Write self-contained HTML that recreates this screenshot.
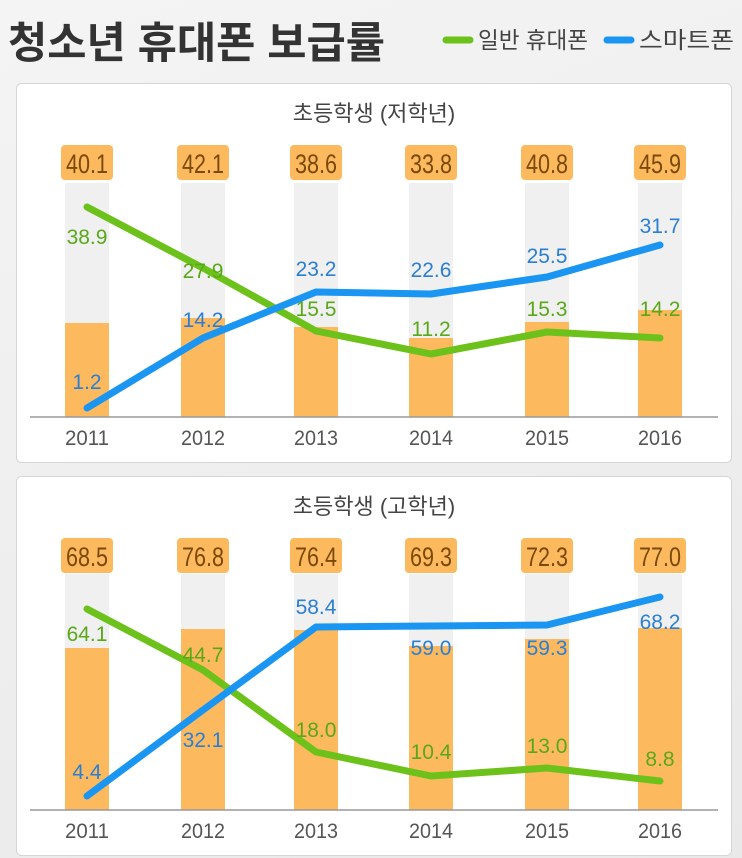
<!DOCTYPE html>
<html><head><meta charset="utf-8"><style>
body{margin:0;width:742px;height:858px;background:linear-gradient(160deg,#f4f4f4,#e9e9e9);font-family:"Liberation Sans","Noto Sans CJK KR",sans-serif;overflow:hidden}
</style></head><body>
<svg width="742" height="858" xmlns="http://www.w3.org/2000/svg" style="position:absolute;left:0;top:0;font-family:'Liberation Sans','Noto Sans CJK KR',sans-serif">
<text x="8" y="58" font-size="43" font-weight="bold" fill="#333" textLength="377" lengthAdjust="spacingAndGlyphs">청소년 휴대폰 보급률</text>
<line x1="446" y1="40" x2="470" y2="40" stroke="#6cc21a" stroke-width="7" stroke-linecap="round"/>
<text x="478" y="48" font-size="23" fill="#444" textLength="110" lengthAdjust="spacingAndGlyphs">일반 휴대폰</text>
<line x1="607" y1="40" x2="631" y2="40" stroke="#1a96f2" stroke-width="7" stroke-linecap="round"/>
<text x="639" y="48" font-size="23" fill="#444" textLength="95" lengthAdjust="spacingAndGlyphs">스마트폰</text>

<rect x="16.5" y="83.5" width="715" height="379" rx="5" fill="#fff" stroke="#d6d6d6"/>
<rect x="16.5" y="476.5" width="715" height="379" rx="5" fill="#fff" stroke="#d6d6d6"/>
<text x="374" y="121" font-size="22" fill="#444" text-anchor="middle">초등학생 (저학년)</text>
<text x="374" y="514" font-size="22" fill="#444" text-anchor="middle">초등학생 (고학년)</text>

<g id="p1">
<g fill="#f0f0f0">
<rect x="65" y="183" width="44" height="234"/><rect x="181" y="183" width="44" height="234"/><rect x="294" y="183" width="44" height="234"/><rect x="409" y="183" width="44" height="234"/><rect x="525" y="183" width="44" height="234"/><rect x="638" y="183" width="44" height="234"/></g>
<g fill="#fdb95e">
<rect x="65" y="323" width="44" height="94"/><rect x="181" y="318" width="44" height="99"/><rect x="294" y="327" width="44" height="90"/><rect x="409" y="338" width="44" height="79"/><rect x="525" y="322" width="44" height="95"/><rect x="638" y="310" width="44" height="107"/></g>
<line x1="30" y1="417" x2="718" y2="417" stroke="#999" stroke-width="1.5"/>
<g fill="#fdb95e"><rect x="61" y="145" width="52" height="35" rx="4"/><rect x="177" y="145" width="52" height="35" rx="4"/><rect x="290" y="145" width="52" height="35" rx="4"/><rect x="405" y="145" width="52" height="35" rx="4"/><rect x="521" y="145" width="52" height="35" rx="4"/><rect x="634" y="145" width="52" height="35" rx="4"/></g>
<g font-size="27" fill="#7a4a0a" text-anchor="middle"><text x="87" y="173" textLength="42" lengthAdjust="spacingAndGlyphs">40.1</text><text x="203" y="173" textLength="42" lengthAdjust="spacingAndGlyphs">42.1</text><text x="316" y="173" textLength="42" lengthAdjust="spacingAndGlyphs">38.6</text><text x="431" y="173" textLength="42" lengthAdjust="spacingAndGlyphs">33.8</text><text x="547" y="173" textLength="42" lengthAdjust="spacingAndGlyphs">40.8</text><text x="660" y="173" textLength="42" lengthAdjust="spacingAndGlyphs">45.9</text></g>
<g font-size="21" fill="#555" text-anchor="middle"><text x="87" y="445" textLength="44" lengthAdjust="spacingAndGlyphs">2011</text><text x="203" y="445" textLength="44" lengthAdjust="spacingAndGlyphs">2012</text><text x="316" y="445" textLength="44" lengthAdjust="spacingAndGlyphs">2013</text><text x="431" y="445" textLength="44" lengthAdjust="spacingAndGlyphs">2014</text><text x="547" y="445" textLength="44" lengthAdjust="spacingAndGlyphs">2015</text><text x="660" y="445" textLength="44" lengthAdjust="spacingAndGlyphs">2016</text></g>
<polyline points="87,207 203,268 316,331 431,354 547,332 660,338" fill="none" stroke="#6cc21a" stroke-width="7" stroke-linejoin="round" stroke-linecap="round"/>
<polyline points="87,408 203,338 316,292 431,294 547,277 660,245" fill="none" stroke="#1a96f2" stroke-width="7" stroke-linejoin="round" stroke-linecap="round"/>
<g font-size="21" fill="#5aa81a" text-anchor="middle"><text x="87" y="244">38.9</text><text x="203" y="278">27.9</text><text x="316" y="316">15.5</text><text x="431" y="336">11.2</text><text x="547" y="316">15.3</text><text x="660" y="316">14.2</text></g>
<g font-size="21" fill="#2a7fd4" text-anchor="middle"><text x="87" y="389">1.2</text><text x="203" y="327">14.2</text><text x="316" y="276">23.2</text><text x="431" y="277">22.6</text><text x="547" y="263">25.5</text><text x="660" y="233">31.7</text></g>
</g>

<g id="p2">
<g fill="#f0f0f0">
<rect x="65" y="574" width="44" height="236"/><rect x="181" y="574" width="44" height="236"/><rect x="294" y="574" width="44" height="236"/><rect x="409" y="574" width="44" height="236"/><rect x="525" y="574" width="44" height="236"/><rect x="638" y="574" width="44" height="236"/></g>
<g fill="#fdb95e">
<rect x="65" y="648" width="44" height="162"/><rect x="181" y="629" width="44" height="181"/><rect x="294" y="630" width="44" height="180"/><rect x="409" y="646" width="44" height="164"/><rect x="525" y="639" width="44" height="171"/><rect x="638" y="628" width="44" height="182"/></g>
<line x1="30" y1="810" x2="718" y2="810" stroke="#999" stroke-width="1.5"/>
<g fill="#fdb95e"><rect x="61" y="538" width="52" height="35" rx="4"/><rect x="177" y="538" width="52" height="35" rx="4"/><rect x="290" y="538" width="52" height="35" rx="4"/><rect x="405" y="538" width="52" height="35" rx="4"/><rect x="521" y="538" width="52" height="35" rx="4"/><rect x="634" y="538" width="52" height="35" rx="4"/></g>
<g font-size="27" fill="#7a4a0a" text-anchor="middle"><text x="87" y="566" textLength="42" lengthAdjust="spacingAndGlyphs">68.5</text><text x="203" y="566" textLength="42" lengthAdjust="spacingAndGlyphs">76.8</text><text x="316" y="566" textLength="42" lengthAdjust="spacingAndGlyphs">76.4</text><text x="431" y="566" textLength="42" lengthAdjust="spacingAndGlyphs">69.3</text><text x="547" y="566" textLength="42" lengthAdjust="spacingAndGlyphs">72.3</text><text x="660" y="566" textLength="42" lengthAdjust="spacingAndGlyphs">77.0</text></g>
<g font-size="21" fill="#555" text-anchor="middle"><text x="87" y="838" textLength="44" lengthAdjust="spacingAndGlyphs">2011</text><text x="203" y="838" textLength="44" lengthAdjust="spacingAndGlyphs">2012</text><text x="316" y="838" textLength="44" lengthAdjust="spacingAndGlyphs">2013</text><text x="431" y="838" textLength="44" lengthAdjust="spacingAndGlyphs">2014</text><text x="547" y="838" textLength="44" lengthAdjust="spacingAndGlyphs">2015</text><text x="660" y="838" textLength="44" lengthAdjust="spacingAndGlyphs">2016</text></g>
<polyline points="87,609 203,670 316,752 431,776 547,768 660,781" fill="none" stroke="#6cc21a" stroke-width="7" stroke-linejoin="round" stroke-linecap="round"/>
<polyline points="87,796 203,710 316,627 431,626 547,625 660,597" fill="none" stroke="#1a96f2" stroke-width="7" stroke-linejoin="round" stroke-linecap="round"/>
<g font-size="21" fill="#5aa81a" text-anchor="middle"><text x="87" y="641">64.1</text><text x="203" y="662">44.7</text><text x="316" y="737">18.0</text><text x="431" y="759">10.4</text><text x="547" y="753">13.0</text><text x="660" y="766">8.8</text></g>
<g font-size="21" fill="#2a7fd4" text-anchor="middle"><text x="87" y="779">4.4</text><text x="203" y="747">32.1</text><text x="316" y="614">58.4</text><text x="431" y="655">59.0</text><text x="547" y="655">59.3</text><text x="660" y="629">68.2</text></g>
</g>
</svg>
</body></html>
